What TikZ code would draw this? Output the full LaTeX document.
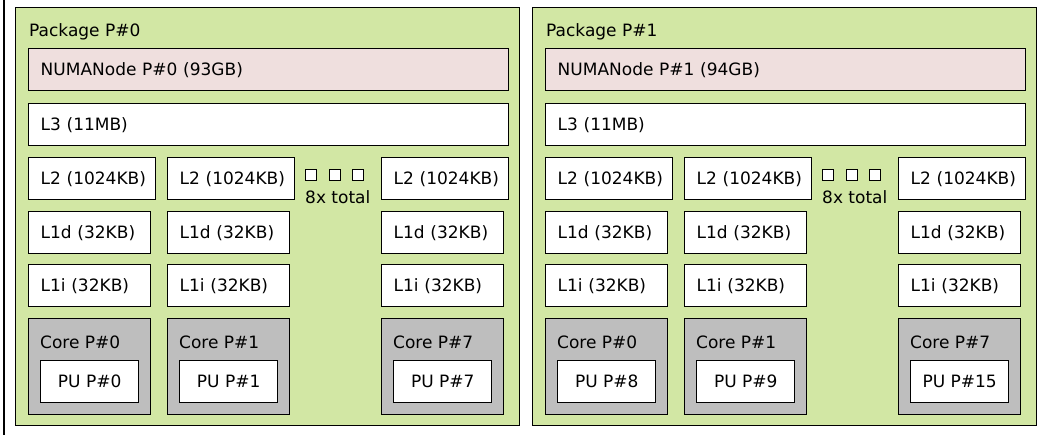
\documentclass[tikz,border=0pt]{standalone}
\usepackage{fontspec}
\setmainfont{DejaVu Sans}
\definecolor{pkggreen}{HTML}{D2E7A4}
\definecolor{numapink}{HTML}{EFDFDE}
\definecolor{coregray}{HTML}{BEBEBE}
\begin{document}
\begin{tikzpicture}[x=1pt,y=-1pt,
  every node/.style={font=\fontsize{17}{20}\selectfont, text=black},
  frame/.style={draw=black, line width=1.4pt},
  pkgbox/.style={frame, fill=pkggreen, rectangle, anchor=north west, inner sep=0pt, minimum width=504pt, minimum height=418pt},
  bx/.style={frame, rectangle, anchor=north west, inner ysep=0pt, inner xsep=12pt, minimum height=42pt, align=left},
  wide/.style={bx, text width=456pt},
  ltwo/.style={bx, fill=white, text width=103pt},
  lone/.style={bx, fill=white, text width=98pt},
  corebox/.style={frame, fill=coregray, rectangle, anchor=north west, inner sep=0pt, minimum width=122pt, minimum height=96pt},
  pubox/.style={frame, fill=white, rectangle, anchor=north west, inner sep=0pt, minimum width=98pt, minimum height=42pt},
  lbl/.style={anchor=base west, inner sep=0pt},
  dot/.style={draw=black, line width=1.1pt, fill=white, rectangle, anchor=north west, inner sep=0pt, minimum width=11pt, minimum height=11pt}
]
\useasboundingbox (0,0) rectangle (1040,435);
\clip (0,0) rectangle (1040,435);
\fill[white] (0,0) rectangle (1040,435);
\draw[frame, fill=white] (4,-20) rectangle (1070,460);
\foreach \p/\ox/\mem/\pua/\pub/\puc in {0/0/93/0/1/7, 1/517/94/8/9/15}{
  \node[pkgbox] (pkg\p) at (15+\ox,7) {};
  \node[lbl] (pkglab\p) at (29+\ox,37) {Package P\#\p};
  \node[wide, fill=numapink] (numa\p) at (28+\ox,48) {NUMANode P\#\p{} (\mem GB)};
  \node[wide, fill=white] (lthree\p) at (28+\ox,103) {L3 (11MB)};
  \foreach \c/\cx/\pu in {0/28/\pua, 1/167/\pub, 7/381/\puc}{
    \node[ltwo] (ltwo\p-\c) at (\cx+\ox,157) {L2~(1024KB)};
    \node[lone] (lod\p-\c) at (\cx+\ox,211) {L1d (32KB)};
    \node[lone] (loi\p-\c) at (\cx+\ox,264) {L1i (32KB)};
    \node[corebox] (core\p-\c) at (\cx+\ox,318) {};
    \node[lbl] (corelab\p-\c) at (\cx+12+\ox,348) {Core P\#\c};
    \node[pubox] (pu\p-\c) at (\cx+12+\ox,360) {PU P\#\pu};
  }
  \node[dot] (dota\p) at (305+\ox,169) {};
  \node[dot] (dotb\p) at (328.5+\ox,169) {};
  \node[dot] (dotc\p) at (352+\ox,169) {};
  \node[lbl] (tot\p) at (305+\ox,204) {8x total};
}
\end{tikzpicture}
\end{document}
